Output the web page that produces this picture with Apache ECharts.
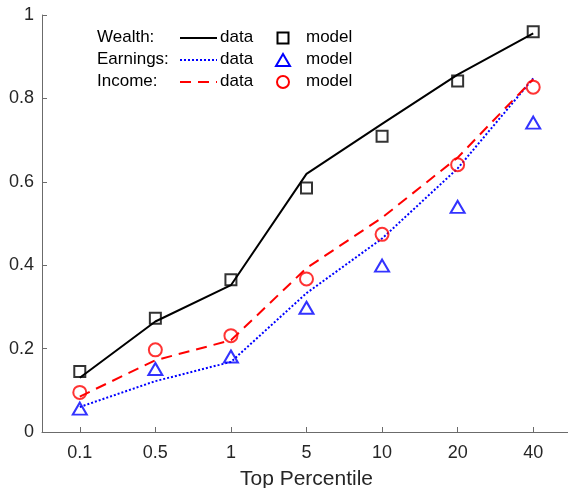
<!DOCTYPE html>
<html>
<head>
<meta charset="utf-8">
<script src="https://cdn.jsdelivr.net/npm/echarts@6/dist/echarts.min.js"></script>
<style>
  html, body { margin: 0; padding: 0; background: #fff; }
  #chart { width: 568px; height: 488px; }
</style>
</head>
<body>
<div id="chart"></div>
<script>
// Top-percentile shares: observed data (lines) against model output (markers)
const percentiles = ['0.1', '0.5', '1', '5', '10', '20', '40'];

const wealthData   = [0.130, 0.265, 0.352, 0.619, 0.739, 0.857, 0.956];
const wealthModel  = [0.145, 0.273, 0.365, 0.585, 0.709, 0.842, 0.960];
const earningsData = [0.060, 0.122, 0.168, 0.333, 0.464, 0.632, 0.848];
const earningsModel= [0.056, 0.151, 0.181, 0.298, 0.399, 0.540, 0.742];
const incomeData   = [0.085, 0.172, 0.220, 0.393, 0.514, 0.658, 0.846];
const incomeModel  = [0.095, 0.197, 0.231, 0.367, 0.474, 0.641, 0.827];

const yTicks = { min: 0, max: 1, interval: 0.2 };

const FONT = '"Liberation Sans", Arial, Helvetica, sans-serif';
const TEXT = '#262626';
const AXIS = '#6b6b6b';

const BLACK = '#000000', BLUE = '#0000ff', RED = '#ff0000';
const DASHED = [11, 7];
const DOTTED = [2, 2];

function dataLine(name, values, color, type) {
  return {
    name, type: 'line', data: values, symbol: 'none', z: 2,
    lineStyle: { color, width: 2, type, cap: 'butt' },
    emphasis: { disabled: true }, animation: false
  };
}
function modelMarks(name, values, color, symbol, size) {
  return {
    name, type: 'scatter', data: values, symbol, symbolSize: size, z: 3,
    itemStyle: { color: 'rgba(0,0,0,0)', borderColor: color, borderWidth: 2 },
    emphasis: { disabled: true }, animation: false
  };
}

// Legend key, laid out as three rows: label | line sample + "data" | marker + "model"
const keyRows = [
  { label: 'Wealth:',   color: BLACK, dash: null,   marker: 'rect' },
  { label: 'Earnings:', color: BLUE,  dash: DOTTED, marker: 'triangle' },
  { label: 'Income:',   color: RED,   dash: DASHED, marker: 'circle' }
];
const keyX = { label: 97, lineFrom: 180, lineTo: 217, data: 220, marker: 283, model: 306 };
const keyY0 = 38, keyDy = 22, keyFont = 17;

const graphics = [];
keyRows.forEach((r, i) => {
  const y = keyY0 + i * keyDy;
  const txt = (x, s) => ({
    type: 'text', left: x, top: y - keyFont / 2 - 1,
    style: { text: s, font: `${keyFont}px ${FONT}`, fill: '#000' }
  });
  graphics.push(txt(keyX.label, r.label));
  graphics.push({
    type: 'line',
    shape: { x1: keyX.lineFrom, y1: y, x2: keyX.lineTo, y2: y },
    style: { stroke: r.color, lineWidth: 2, lineDash: r.dash || null, lineCap: 'butt' }
  });
  graphics.push(txt(keyX.data, 'data'));
  const mStyle = { fill: 'none', stroke: r.color, lineWidth: 2 };
  const cx = keyX.marker;
  if (r.marker === 'rect') {
    graphics.push({ type: 'rect', shape: { x: cx - 5.5, y: y - 5.5, width: 11, height: 11 }, style: mStyle });
  } else if (r.marker === 'triangle') {
    graphics.push({ type: 'polygon', shape: { points: [[cx, y - 6], [cx + 7, y + 6], [cx - 7, y + 6]] }, style: mStyle });
  } else {
    graphics.push({ type: 'circle', shape: { cx, cy: y, r: 6 }, style: mStyle });
  }
  graphics.push(txt(keyX.model, 'model'));
});

const chart = echarts.init(document.getElementById('chart'), null, { renderer: 'canvas' });
chart.setOption({
  animation: false,
  backgroundColor: '#ffffff',
  grid: { left: 42, top: 15, width: 529, bottom: 56, containLabel: false, outerBoundsMode: 'none' },
  xAxis: {
    type: 'category',
    data: percentiles,
    boundaryGap: true,
    name: 'Top Percentile',
    nameLocation: 'middle',
    nameGap: 37,
    nameTextStyle: { fontFamily: FONT, fontSize: 21, color: TEXT },
    axisLine: { show: true, lineStyle: { color: AXIS, width: 1 } },
    axisTick: { show: true, inside: true, length: 5, alignWithLabel: true, lineStyle: { color: AXIS } },
    axisLabel: { fontFamily: FONT, fontSize: 18, color: TEXT, margin: 12 },
    splitLine: { show: false }
  },
  yAxis: {
    type: 'value',
    min: yTicks.min, max: yTicks.max, interval: yTicks.interval,
    axisLine: { show: true, lineStyle: { color: AXIS, width: 1 } },
    axisTick: { show: true, inside: true, length: 5, lineStyle: { color: AXIS } },
    axisLabel: { fontFamily: FONT, fontSize: 18, color: TEXT, margin: 8, padding: [6, 0, 0, 0] },
    splitLine: { show: false }
  },
  series: [
    dataLine('Wealth data', wealthData, BLACK, 'solid'),
    dataLine('Earnings data', earningsData, BLUE, DOTTED),
    dataLine('Income data', incomeData, RED, DASHED),
    modelMarks('Wealth model', wealthModel, BLACK, 'rect', 11),
    modelMarks('Earnings model', earningsModel, BLUE, 'triangle', [14, 12]),
    modelMarks('Income model', incomeModel, RED, 'circle', 13)
  ],
  graphic: graphics
});
</script>
</body>
</html>
